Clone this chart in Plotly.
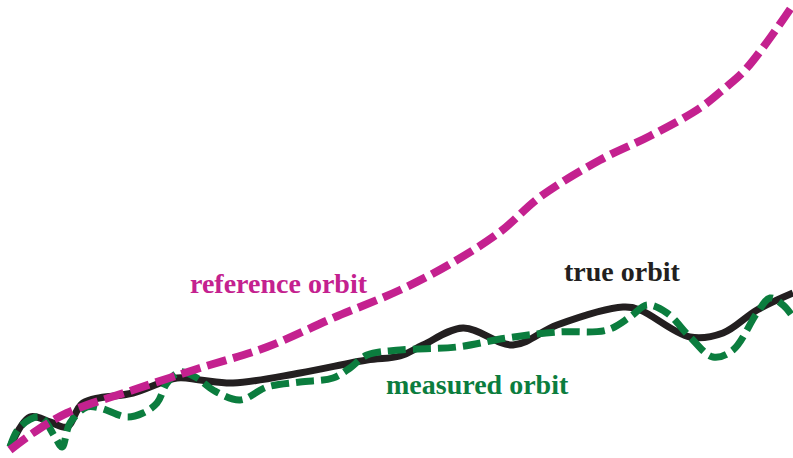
import plotly.graph_objects as go

# values (pixel-like coordinates, y grows downward)
ref_x = [10, 33, 67, 133, 200, 267, 333, 400, 450, 500, 540, 600, 650, 700, 725, 745, 770, 793]
ref_y = [450, 433, 413, 390, 368, 347, 318, 290, 264, 232, 197, 160, 136, 108, 88, 70, 38, 5]

true_x = [10, 30, 50, 67, 83, 133, 177, 200, 233, 300, 367, 400, 423, 463, 513, 557, 623, 640, 690, 723, 757, 793]
true_y = [447, 417, 422, 427, 403, 393, 378, 380, 383, 373, 360, 356, 345, 328, 345, 325, 307, 310, 337, 333, 310, 293]

meas_x = [10, 20, 40, 55, 62, 70, 87, 100, 127, 143, 157, 167, 180, 197, 213, 240, 267, 300, 333, 350, 367, 400,
          457, 507, 557, 607, 630, 647, 667, 690, 713, 733, 757, 770, 783, 793]
meas_y = [447, 427, 417, 437, 447, 423, 407, 408, 417, 413, 403, 383, 372, 378, 390, 400, 387, 382, 378, 368, 355, 350,
          347, 338, 332, 330, 317, 305, 313, 337, 357, 350, 313, 298, 305, 317]

labels = ["reference orbit", "true orbit", "measured orbit"]
label_x = [279, 622, 477]
label_y = [283, 271, 384]
colors = ["#C4218F", "#231F20", "#0B7D3E"]

fig = go.Figure()
fig.add_trace(go.Scatter(x=true_x, y=true_y, mode="lines",
                         line=dict(color=colors[1], width=7, shape="spline", smoothing=1.0)))
fig.add_trace(go.Scatter(x=meas_x, y=meas_y, mode="lines",
                         line=dict(color=colors[2], width=7, shape="spline", smoothing=1.0, dash="18px,7px")))
fig.add_trace(go.Scatter(x=ref_x, y=ref_y, mode="lines",
                         line=dict(color=colors[0], width=8, shape="spline", smoothing=1.0, dash="20px,7px")))

for t, x, y, c in zip(labels, label_x, label_y, colors):
    fig.add_annotation(x=x, y=y, text=t, showarrow=False,
                       font=dict(family="Liberation Serif", size=28, color=c, weight="bold"))

fig.update_layout(
    width=793, height=458,
    margin=dict(l=0, r=0, t=0, b=0),
    paper_bgcolor="white", plot_bgcolor="white",
    showlegend=False,
    hovermode=False,
    xaxis=dict(range=[0, 793], visible=False),
    yaxis=dict(range=[458, 0], visible=False),
)
fig.write_html("out.html", config={"displayModeBar": False},
               post_script="document.body.style.margin='0';document.body.style.overflow='hidden';")
